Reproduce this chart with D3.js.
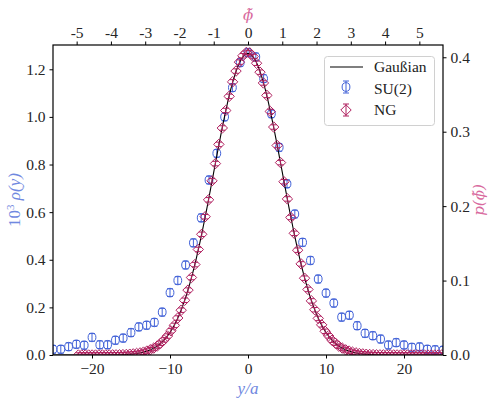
<!DOCTYPE html>
<html>
  <head>
    <meta charset="UTF-8" />
    <script src="https://d3js.org/d3.v7.min.js"></script>
  </head>
  <body style="margin:0;background:#fff">
    <div id="my_dataviz"></div>

    <script>
      // SU(2) data: y/a and 10^3 rho(y)
      const suX = d3.range(-25, 26);
      const suRho = [
        0.024, 0.024, 0.035, 0.045, 0.041, 0.074, 0.043, 0.043, 0.062, 0.071,
        0.094, 0.118, 0.125, 0.137, 0.180, 0.262, 0.313, 0.378, 0.471, 0.576,
        0.735, 0.847, 1.000, 1.123, 1.228, 1.270, 1.252, 1.161, 1.013, 0.872,
        0.719, 0.592, 0.473, 0.397, 0.319, 0.260, 0.218, 0.159, 0.167, 0.123,
        0.091, 0.081, 0.067, 0.042, 0.052, 0.042, 0.032, 0.034, 0.024, 0.022,
        0.020
      ];
      const suErr = 0.016;

      // NG data: phi~ grid and p(phi~)
      const ngPhiStart = -4.95, ngPhiStep = 0.1;
      const ngP = [
        0.0000, 0.0000, 0.0000, 0.0000, 0.0000, 0.0000, 0.0001, 0.0001, 0.0001, 0.0001,
        0.0002, 0.0002, 0.0003, 0.0005, 0.0007, 0.0011, 0.0015, 0.0021, 0.0028, 0.0039,
        0.0053, 0.0071, 0.0093, 0.0120, 0.0158, 0.0203, 0.0255, 0.0325, 0.0398, 0.0497,
        0.0602, 0.0735, 0.0872, 0.1041, 0.1215, 0.1418, 0.1622, 0.1858, 0.2085, 0.2340,
        0.2572, 0.2830, 0.3050, 0.3285, 0.3475, 0.3670, 0.3815, 0.3935, 0.4020, 0.4065,
        0.4060, 0.4010, 0.3920, 0.3800, 0.3655, 0.3488, 0.3272, 0.3063, 0.2815, 0.2585,
        0.2328, 0.2097, 0.1848, 0.1635, 0.1408, 0.1224, 0.1032, 0.0881, 0.0727, 0.0608,
        0.0492, 0.0405, 0.0319, 0.0258, 0.0199, 0.0159, 0.0119, 0.0093, 0.0069, 0.0053,
        0.0038, 0.0029, 0.0020, 0.0015, 0.0010, 0.0007, 0.0005, 0.0003, 0.0002, 0.0002,
        0.0001, 0.0001, 0.0001, 0.0001, 0.0000, 0.0000, 0.0000, 0.0000, 0.0000, 0.0000,
        0.0000, 0.0000, 0.0000, 0.0000, 0.0000, 0.0000, 0.0000
      ];
      const ngErr = 0.003;

      // Gaussian reference curve (in phi~ units)
      const gaussPeak = 0.405, gaussSigma = 1;

      const bottomTicks = [-20, -10, 0, 10, 20];
      const leftTicks = [0, 0.2, 0.4, 0.6, 0.8, 1.0, 1.2];
      const rightTicks = [0, 0.1, 0.2, 0.3, 0.4];
      const topTicks = [-5, -4, -3, -2, -1, 0, 1, 2, 3, 4, 5];

      const blue = "#4262d8", pink = "#b0205f";
      const blueLab = "#7088e0", pinkLab = "#d86a9e";
      const tickFont = "'Liberation Serif', 'Times New Roman', serif";

      var width = 496, height = 402;
      var plot = { left: 53, right: 443, top: 45, bottom: 355 };

      var svg = d3
        .select("#my_dataviz")
        .append("svg")
        .attr("width", width)
        .attr("height", height);

      var x = d3.scaleLinear().domain([-25, 25]).range([plot.left, plot.right]);
      var yL = d3.scaleLinear().domain([0, 1.302]).range([plot.bottom, plot.top]);
      var xT = d3.scaleLinear().domain([-5.69, 5.69]).range([plot.left, plot.right]);
      var yR = d3.scaleLinear().domain([0, 0.4165]).range([plot.bottom, plot.top]);

      svg.append("clipPath").attr("id", "clip")
        .append("rect")
        .attr("x", plot.left).attr("y", plot.top)
        .attr("width", plot.right - plot.left).attr("height", plot.bottom - plot.top);

      // axes
      function styleAxis(g) {
        g.select(".domain").remove();
        g.attr("font-family", null).attr("font-size", null);
        g.selectAll(".tick line").attr("stroke", "#000");
        g.selectAll(".tick text")
          .attr("font-family", tickFont)
          .attr("font-size", 15.5)
          .attr("fill", "#262626");
      }
      svg.append("g")
        .attr("transform", "translate(0," + plot.bottom + ")")
        .call(d3.axisBottom(x).tickValues(bottomTicks).tickSize(3.5).tickPadding(4)
          .tickFormat(d => (d < 0 ? "\u2212" + Math.abs(d) : d)))
        .call(styleAxis);
      svg.append("g")
        .attr("transform", "translate(" + plot.left + ",0)")
        .call(d3.axisLeft(yL).tickValues(leftTicks).tickSize(3.5).tickPadding(4).tickFormat(d3.format(".1f")))
        .call(styleAxis);
      svg.append("g")
        .attr("transform", "translate(" + plot.right + ",0)")
        .call(d3.axisRight(yR).tickValues(rightTicks).tickSize(3.5).tickPadding(4).tickFormat(d3.format(".1f")))
        .call(styleAxis);
      svg.append("g")
        .attr("transform", "translate(0," + plot.top + ")")
        .call(d3.axisTop(xT).tickValues(topTicks).tickSize(3.5).tickPadding(4).tickFormat(d => String(d)))
        .call(styleAxis);

      var data = svg.append("g").attr("clip-path", "url(#clip)");

      // SU(2) points with error bars
      var su = data.append("g").attr("stroke", blue).attr("fill", "none").attr("stroke-width", 1);
      suX.forEach((v, i) => {
        var cx = x(v), cy = yL(suRho[i]);
        var y0 = yL(suRho[i] - suErr), y1 = yL(suRho[i] + suErr);
        su.append("line").attr("x1", cx).attr("x2", cx).attr("y1", y0).attr("y2", y1);
        su.append("line").attr("x1", cx - 3).attr("x2", cx + 3).attr("y1", y0).attr("y2", y0);
        su.append("line").attr("x1", cx - 3).attr("x2", cx + 3).attr("y1", y1).attr("y2", y1);
        su.append("ellipse").attr("cx", cx).attr("cy", cy).attr("rx", 3.9).attr("ry", 4.3);
      });

      // Gaussian line
      var gx = d3.range(-5.7, 5.701, 0.02);
      var line = d3.line()
        .x(d => xT(d))
        .y(d => yR(gaussPeak * Math.exp(-d * d / (2 * gaussSigma * gaussSigma))));
      data.append("path")
        .attr("d", line(gx))
        .attr("fill", "none")
        .attr("stroke", "black")
        .attr("stroke-width", 1.1);

      // NG points with error bars
      var ng = data.append("g").attr("stroke", pink).attr("fill", "none").attr("stroke-width", 1);
      var diamond = (cx, cy, r) =>
        "M" + cx + "," + (cy - r) + "L" + (cx + r) + "," + cy + "L" + cx + "," + (cy + r) + "L" + (cx - r) + "," + cy + "Z";
      ngP.forEach((p, i) => {
        var phi = ngPhiStart + i * ngPhiStep;
        var cx = xT(phi), cy = yR(p);
        var y0 = yR(p - ngErr), y1 = yR(p + ngErr);
        ng.append("line").attr("x1", cx).attr("x2", cx).attr("y1", y0).attr("y2", y1);
        ng.append("line").attr("x1", cx - 3).attr("x2", cx + 3).attr("y1", y0).attr("y2", y0);
        ng.append("line").attr("x1", cx - 3).attr("x2", cx + 3).attr("y1", y1).attr("y2", y1);
        ng.append("path").attr("d", diamond(cx, cy, 5.2));
      });

      // frame
      svg.append("rect")
        .attr("x", plot.left).attr("y", plot.top)
        .attr("width", plot.right - plot.left).attr("height", plot.bottom - plot.top)
        .attr("fill", "none").attr("stroke", "black").attr("stroke-width", 1.2);

      // axis labels
      var serif = "'DejaVu Serif', 'Liberation Serif', serif";
      svg.append("text")
        .attr("x", x(0)).attr("y", 394)
        .attr("text-anchor", "middle")
        .attr("font-family", tickFont).attr("font-style", "italic")
        .attr("font-size", 17).attr("fill", blueLab)
        .text("y/a");

      var ll = svg.append("text")
        .attr("transform", "translate(20," + (plot.top + plot.bottom) / 2 + ") rotate(-90)")
        .attr("text-anchor", "middle")
        .attr("font-family", tickFont)
        .attr("font-size", 17).attr("fill", blueLab);
      ll.append("tspan").text("10");
      ll.append("tspan").attr("dy", -6).attr("font-size", 11).text("3");
      ll.append("tspan").attr("dy", 6).attr("font-style", "italic").text(" \u03C1(y)");

      svg.append("text")
        .attr("transform", "translate(484," + (plot.top + plot.bottom) / 2 + ") rotate(-90)")
        .attr("text-anchor", "middle")
        .attr("font-family", serif).attr("font-style", "italic")
        .attr("font-size", 15).attr("fill", pinkLab)
        .text("p(\u03D5\u0303)");

      svg.append("text")
        .attr("x", x(0)).attr("y", 20)
        .attr("text-anchor", "middle")
        .attr("font-family", serif).attr("font-style", "italic")
        .attr("font-size", 15).attr("fill", pinkLab)
        .text("\u03D5\u0303");

      // legend
      var lg = svg.append("g");
      lg.append("rect")
        .attr("x", 324.5).attr("y", 56.5).attr("width", 110).attr("height", 69)
        .attr("rx", 3).attr("fill", "white").attr("fill-opacity", 0.85)
        .attr("stroke", "#d0d0d0").attr("stroke-width", 1);
      lg.append("line").attr("x1", 330).attr("x2", 363).attr("y1", 67).attr("y2", 67)
        .attr("stroke", "black").attr("stroke-width", 1.1);
      var lsu = lg.append("g").attr("stroke", blue).attr("fill", "none");
      lsu.append("line").attr("x1", 346).attr("x2", 346).attr("y1", 81).attr("y2", 93);
      lsu.append("line").attr("x1", 343).attr("x2", 349).attr("y1", 81).attr("y2", 81);
      lsu.append("line").attr("x1", 343).attr("x2", 349).attr("y1", 93).attr("y2", 93);
      lsu.append("ellipse").attr("cx", 346).attr("cy", 87).attr("rx", 3.9).attr("ry", 4.3);
      var lng = lg.append("g").attr("stroke", pink).attr("fill", "none");
      lng.append("line").attr("x1", 346).attr("x2", 346).attr("y1", 104).attr("y2", 116);
      lng.append("line").attr("x1", 343).attr("x2", 349).attr("y1", 104).attr("y2", 104);
      lng.append("line").attr("x1", 343).attr("x2", 349).attr("y1", 116).attr("y2", 116);
      lng.append("path").attr("d", diamond(346, 110, 5.2));
      var legendText = ["Gau\u00DFian", "SU(2)", "NG"];
      legendText.forEach((t, i) => {
        lg.append("text")
          .attr("x", 374).attr("y", 67 + i * 21.5)
          .attr("dy", "0.35em")
          .attr("font-family", tickFont)
          .attr("font-size", 15.5).attr("fill", "#222")
          .text(t);
      });
    </script>
  </body>
</html>
